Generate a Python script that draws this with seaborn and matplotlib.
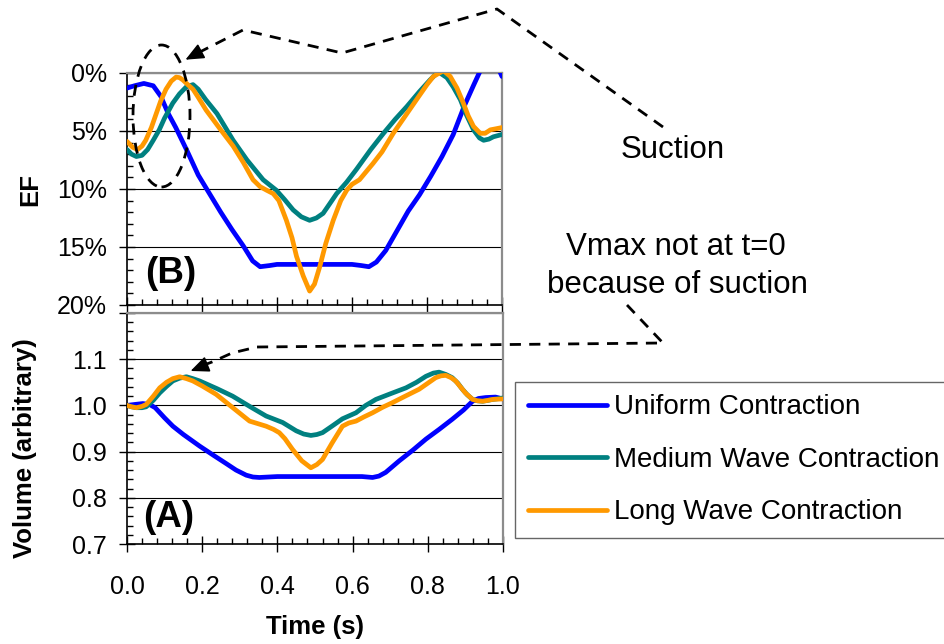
import numpy as np
import pandas as pd
import matplotlib
matplotlib.use("Agg")
import matplotlib.pyplot as plt
import seaborn as sns
from matplotlib.lines import Line2D
from matplotlib.patches import Ellipse, FancyArrowPatch
from matplotlib.ticker import MultipleLocator, FixedLocator, FixedFormatter

# ---------------- data ----------------
series_names = ["Uniform Contraction", "Medium Wave Contraction", "Long Wave Contraction"]
series_colors = ["#0000FF", "#008080", "#FF9900"]

# (B) EF panel, EF in percent
ef_uniform_t = [0.0, 0.02, 0.045, 0.07, 0.09, 0.11, 0.13, 0.16, 0.19, 0.22, 0.25, 0.28, 0.31, 0.335,
                0.355, 0.38, 0.40, 0.45, 0.50, 0.55, 0.60, 0.625, 0.645, 0.665, 0.69, 0.72, 0.75,
                0.78, 0.81, 0.84, 0.87, 0.90, 0.925, 0.945, 0.965, 0.985, 1.0]
ef_uniform = [1.3, 1.1, 0.9, 1.1, 2.0, 3.5, 4.7, 6.7, 8.8, 10.4, 12.0, 13.5, 14.9, 16.2,
              16.7, 16.6, 16.5, 16.5, 16.5, 16.5, 16.5, 16.6, 16.7, 16.3, 15.3, 13.6, 11.9,
              10.5, 8.9, 7.2, 5.3, 2.8, 1.0, -0.4, -1.0, -0.8, 0.3]

ef_medium_t = [0.0, 0.012, 0.025, 0.04, 0.055, 0.07, 0.086, 0.10, 0.122, 0.14, 0.158, 0.176, 0.19,
               0.21, 0.24, 0.283, 0.32, 0.363, 0.398, 0.42, 0.443, 0.465, 0.487, 0.505, 0.523,
               0.54, 0.559, 0.586, 0.612, 0.65, 0.684, 0.715, 0.746, 0.78, 0.808, 0.83, 0.853,
               0.87, 0.889, 0.905, 0.924, 0.94, 0.951, 0.965, 0.977, 1.0]
ef_medium = [6.6, 7.0, 7.2, 7.1, 6.6, 5.8, 4.9, 3.9, 2.6, 1.8, 1.2, 1.0, 1.4,
             2.3, 3.5, 5.8, 7.5, 9.2, 10.1, 10.9, 11.8, 12.4, 12.7, 12.5, 12.1,
             11.3, 10.4, 9.4, 8.3, 6.6, 5.2, 4.0, 2.9, 1.6, 0.6, -0.1, 0.4,
             1.2, 2.3, 3.6, 4.9, 5.6, 5.8, 5.7, 5.5, 5.3]

ef_long_t = [0.0, 0.015, 0.028, 0.04, 0.05, 0.065, 0.078, 0.09, 0.104, 0.118, 0.131, 0.14, 0.149,
             0.162, 0.176, 0.19, 0.211, 0.25, 0.283, 0.31, 0.336, 0.355, 0.372, 0.39, 0.405,
             0.425, 0.44, 0.452, 0.47, 0.487, 0.50, 0.514, 0.53, 0.55, 0.57, 0.586, 0.60, 0.62,
             0.656, 0.68, 0.71, 0.74, 0.772, 0.80, 0.817, 0.844, 0.862, 0.88, 0.897, 0.91,
             0.924, 0.942, 0.955, 0.969, 0.985, 1.0]
ef_long = [5.9, 6.4, 6.6, 6.3, 5.8, 4.7, 3.5, 2.4, 1.4, 0.7, 0.35, 0.4, 0.6,
           1.0, 1.4, 2.1, 3.2, 4.9, 6.3, 7.7, 9.2, 9.8, 10.1, 10.4, 11.0,
           12.7, 14.2, 15.8, 17.5, 18.8, 18.2, 16.7, 14.7, 12.7, 11.0, 10.1, 9.6, 9.2,
           7.8, 6.8, 5.2, 3.8, 2.3, 1.0, 0.3, -0.2, 0.3, 1.3, 2.6, 3.7,
           4.6, 5.2, 5.2, 4.9, 4.8, 4.7]

# (A) Volume panel
vol_uniform_t = [0.0, 0.02, 0.042, 0.06, 0.075, 0.10, 0.122, 0.15, 0.193, 0.23, 0.264, 0.29, 0.317,
                 0.335, 0.352, 0.40, 0.45, 0.50, 0.55, 0.60, 0.625, 0.653, 0.67, 0.688, 0.724,
                 0.76, 0.795, 0.83, 0.865, 0.895, 0.919, 0.935, 0.954, 0.98, 1.0]
vol_uniform = [1.000, 1.002, 1.004, 1.002, 0.995, 0.973, 0.955, 0.937, 0.912, 0.892, 0.874, 0.860, 0.849,
               0.845, 0.844, 0.846, 0.846, 0.846, 0.846, 0.846, 0.846, 0.844, 0.847, 0.855, 0.880,
               0.903, 0.927, 0.948, 0.970, 0.990, 1.009, 1.015, 1.017, 1.018, 1.014]

vol_medium_t = [0.0, 0.012, 0.025, 0.04, 0.051, 0.07, 0.087, 0.105, 0.122, 0.14, 0.158, 0.175, 0.193,
                0.24, 0.281, 0.33, 0.37, 0.414, 0.45, 0.47, 0.489, 0.505, 0.52, 0.545, 0.573,
                0.609, 0.635, 0.662, 0.70, 0.742, 0.77, 0.795, 0.815, 0.83, 0.848, 0.865, 0.88,
                0.892, 0.905, 0.919, 0.932, 0.946, 0.96, 0.973, 1.0]
vol_medium = [1.000, 0.997, 0.995, 0.995, 0.997, 1.011, 1.027, 1.041, 1.053, 1.059, 1.062, 1.058, 1.053,
              1.036, 1.020, 0.996, 0.977, 0.963, 0.945, 0.938, 0.935, 0.937, 0.941, 0.955, 0.971,
              0.984, 1.000, 1.013, 1.025, 1.038, 1.050, 1.063, 1.070, 1.072, 1.067, 1.060, 1.048,
              1.035, 1.023, 1.013, 1.010, 1.009, 1.011, 1.013, 1.016]

vol_long_t = [0.0, 0.012, 0.025, 0.04, 0.051, 0.07, 0.087, 0.105, 0.122, 0.14, 0.158, 0.175, 0.20,
              0.237, 0.28, 0.326, 0.35, 0.37, 0.39, 0.405, 0.42, 0.44, 0.465, 0.489, 0.505, 0.52,
              0.545, 0.573, 0.59, 0.609, 0.63, 0.653, 0.68, 0.706, 0.74, 0.777, 0.80, 0.821,
              0.835, 0.848, 0.862, 0.874, 0.887, 0.90, 0.919, 0.932, 0.946, 0.96, 0.973, 1.0]
vol_long = [1.000, 0.997, 0.995, 0.998, 1.002, 1.020, 1.038, 1.050, 1.058, 1.062, 1.058, 1.053, 1.042,
            1.024, 0.996, 0.966, 0.960, 0.955, 0.948, 0.941, 0.928, 0.905, 0.880, 0.865, 0.872, 0.883,
            0.918, 0.955, 0.962, 0.966, 0.975, 0.984, 0.996, 1.006, 1.020, 1.035, 1.048, 1.060,
            1.064, 1.065, 1.060, 1.053, 1.040, 1.027, 1.013, 1.010, 1.009, 1.011, 1.013, 1.014]

ef_ticks = [0, 5, 10, 15, 20]
ef_tick_labels = ["0%", "5%", "10%", "15%", "20%"]
vol_ticks = [0.7, 0.8, 0.9, 1.0, 1.1, 1.2]
vol_tick_labels = ["0.7", "0.8", "0.9", "1.0", "1.1", ""]
time_ticks = [0.0, 0.2, 0.4, 0.6, 0.8, 1.0]
time_tick_labels = ["0.0", "0.2", "0.4", "0.6", "0.8", "1.0"]


def long_df(ts, vs):
    frames = []
    for name, t, v in zip(series_names, ts, vs):
        frames.append(pd.DataFrame({"t": t, "v": v, "series": name}))
    return pd.concat(frames, ignore_index=True)


df_ef = long_df([ef_uniform_t, ef_medium_t, ef_long_t], [ef_uniform, ef_medium, ef_long])
df_vol = long_df([vol_uniform_t, vol_medium_t, vol_long_t], [vol_uniform, vol_medium, vol_long])

# ---------------- style ----------------
sns.set_style("white")
plt.rcParams["font.family"] = ["Liberation Sans", "DejaVu Sans"]
plt.rcParams["text.color"] = "black"
plt.rcParams["axes.labelcolor"] = "black"
plt.rcParams["xtick.color"] = "black"
plt.rcParams["ytick.color"] = "black"
plt.rcParams["xtick.labelcolor"] = "black"
plt.rcParams["ytick.labelcolor"] = "black"
plt.rcParams["lines.solid_capstyle"] = "round"
plt.rcParams["lines.solid_joinstyle"] = "round"

W, H = 944, 644
fig = plt.figure(figsize=(W / 100, H / 100), dpi=100)


def fx(x):
    return x / W


def fy(y):
    return 1 - y / H


ax_top = fig.add_axes([fx(127), fy(305), (502 - 127) / W, (305 - 73) / H])
ax_bot = fig.add_axes([fx(127), fy(544), (503 - 127) / W, (544 - 313) / H])

palette = dict(zip(series_names, series_colors))
LW = 3.4
for ax, df in [(ax_top, df_ef), (ax_bot, df_vol)]:
    sns.lineplot(data=df, x="t", y="v", hue="series", palette=palette, hue_order=series_names,
                 estimator=None, sort=False, linewidth=LW, legend=False, ax=ax, zorder=3)
    ax.set_xlabel("")
    ax.set_ylabel("")
    ax.set_xlim(0, 1)
    for s in ["top", "right"]:
        ax.spines[s].set_color("#8c8c8c")
        ax.spines[s].set_linewidth(1.6)
    for s in ["left", "bottom"]:
        ax.spines[s].set_color("black")
        ax.spines[s].set_linewidth(1.2)
    ax.xaxis.set_major_locator(FixedLocator(time_ticks))
    ax.xaxis.set_minor_locator(MultipleLocator(0.04))
    ax.tick_params(which="major", direction="inout", length=12, width=1.0, color="black",
                   labelcolor="black", left=True, bottom=True, right=False, top=False, labelsize=18)
    ax.tick_params(which="minor", direction="in", length=4.5, width=1.0, color="black",
                   left=True, bottom=True, right=False, top=False)
    ax.tick_params(axis="y", which="major", pad=8.4)
    ax.tick_params(axis="x", which="major", pad=16.5)
    ax.grid(axis="y", which="major", color="black", linewidth=0.8, zorder=1)
    ax.grid(axis="x", visible=False)

# top panel
ax_top.set_ylim(20, 0)
ax_top.yaxis.set_major_locator(FixedLocator(ef_ticks))
ax_top.yaxis.set_major_formatter(FixedFormatter(ef_tick_labels))
ax_top.yaxis.set_minor_locator(MultipleLocator(1))
ax_top.tick_params(axis="x", labelbottom=False)

# bottom panel
ax_bot.set_ylim(0.7, 1.2)
ax_bot.yaxis.set_major_locator(FixedLocator(vol_ticks))
ax_bot.yaxis.set_major_formatter(FixedFormatter(vol_tick_labels))
ax_bot.yaxis.set_minor_locator(MultipleLocator(0.02))
ax_bot.xaxis.set_major_formatter(FixedFormatter(time_tick_labels))

# axis labels
fig.text(fx(30), fy(189), "EF", rotation=90, ha="center", va="center", fontsize=18.5,
         fontweight="bold", color="black")
fig.text(fx(25), fy(448), "Volume (arbitrary)", rotation=90, ha="center", va="center",
         fontsize=18.5, fontweight="bold", color="black")
fig.text(fx(315), fy(634), "Time (s)", ha="center", va="baseline", fontsize=18.5,
         fontweight="bold", color="black")

# panel labels
fig.text(fx(145), fy(283), "(B)", ha="left", va="baseline", fontsize=26.5, fontweight="bold", color="black")
fig.text(fx(143), fy(527), "(A)", ha="left", va="baseline", fontsize=26.5, fontweight="bold", color="black")

# legend
handles = [Line2D([0], [0], color=c, lw=3.4) for c in series_colors]
leg = fig.legend(handles, series_names, loc="upper left", bbox_to_anchor=(fx(515), fy(382)),
                 bbox_transform=fig.transFigure, fontsize=20, frameon=True, fancybox=False,
                 handlelength=2.86, handletextpad=0.25, borderpad=0.45, labelspacing=0.95,
                 borderaxespad=0)
leg.get_frame().set_edgecolor("#404040")
leg.get_frame().set_linewidth(1.0)
for t in leg.get_texts():
    t.set_color("black")

# annotations
fig.text(fx(673), fy(158), "Suction", ha="center", va="baseline", fontsize=22.5, color="black")
fig.text(fx(676), fy(255), "Vmax not at t=0", ha="center", va="baseline", fontsize=22.5, color="black")
fig.text(fx(677), fy(293), "because of suction", ha="center", va="baseline", fontsize=22.5, color="black")

dash = (0, (4, 3))
ALW = 2.0
top_path_x = [663, 497, 342, 243, 190]
top_path_y = [127, 9, 53, 30, 57]
fig.add_artist(Line2D([fx(v) for v in top_path_x], [fy(v) for v in top_path_y],
                      transform=fig.transFigure, color="black", lw=ALW, linestyle=dash))
fig.add_artist(Ellipse((fx(161.5), fy(116)), 57 / W, 142 / H, transform=fig.transFigure,
                       fill=False, edgecolor="black", lw=ALW, linestyle=dash))

bot_path_x = [627, 663, 257, 232, 212, 196]
bot_path_y = [305, 343, 347, 353, 362, 368]
fig.add_artist(Line2D([fx(v) for v in bot_path_x], [fy(v) for v in bot_path_y],
                      transform=fig.transFigure, color="black", lw=ALW, linestyle=dash))

for (x0, y0, x1, y1) in [(198, 53, 183, 61), (203, 366, 188, 372)]:
    fig.add_artist(FancyArrowPatch(
        (fx(x0), fy(y0)), (fx(x1), fy(y1)), transform=fig.transFigure,
        arrowstyle="-|>,head_length=0.8,head_width=0.35", mutation_scale=14,
        color="black", lw=1.2))

fig.savefig("out.png", dpi=100)
